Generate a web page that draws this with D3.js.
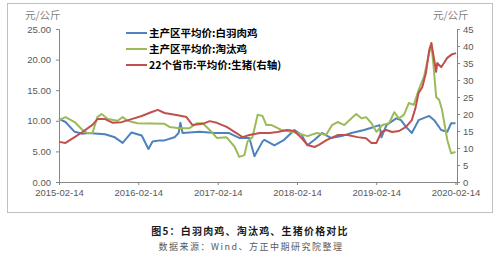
<!DOCTYPE html>
<html>
<head>
<meta charset="utf-8">
<script src="https://cdn.jsdelivr.net/npm/d3@7"></script>
<style>
  body { margin: 0; background: #fff; }
  text { font-family: "Liberation Sans", Arial, sans-serif; }
  .cjk { font-family: "Noto Sans CJK SC", sans-serif; }
</style>
</head>
<body>
<div id="chart"></div>
<script>
// tick labels
var xTickDates = ["2015-02-14","2016-02-14","2017-02-14","2018-02-14","2019-02-14","2020-02-14"];
var leftTicks = [0, 5, 10, 15, 20, 25];
var rightTicks = [0, 5, 10, 15, 20, 25, 30, 35, 40, 45];

// series names
var seriesNames = ["主产区平均价:白羽肉鸡", "主产区平均价:淘汰鸡", "22个省市:平均价:生猪(右轴)"];

// 白羽肉鸡 (left axis)
var broiler = [
  ["2015-02-14",10.3],["2015-03-16",9.8],["2015-04-27",8.2],["2015-06-02",7.9],["2015-06-26",8.0],
  ["2015-09-14",7.8],["2015-10-29",7.3],["2015-12-04",6.4],["2016-01-14",8.1],["2016-03-01",7.6],
  ["2016-04-01",5.4],["2016-04-20",6.6],["2016-05-23",6.8],["2016-06-14",6.8],["2016-07-30",7.3],
  ["2016-08-18",8.0],["2016-08-26",9.7],["2016-09-05",8.0],["2016-11-23",8.2],["2017-02-01",8.0],
  ["2017-04-08",8.0],["2017-05-24",7.2],["2017-07-10",7.2],["2017-08-02",4.2],["2017-09-08",6.6],
  ["2017-09-17",6.9],["2017-11-02",6.0],["2017-12-17",6.9],["2018-02-02",8.5],["2018-03-07",7.7],
  ["2018-04-03",6.0],["2018-05-06",6.9],["2018-06-10",8.0],["2018-07-20",7.2],["2018-09-08",7.5],
  ["2018-10-23",8.0],["2018-12-20",8.5],["2019-02-04",9.0],["2019-03-01",9.3],["2019-03-10",7.3],
  ["2019-04-02",9.3],["2019-05-17",10.4],["2019-06-08",10.1],["2019-07-01",9.0],["2019-07-28",8.0],
  ["2019-08-28",10.1],["2019-10-16",10.8],["2019-11-08",10.1],["2019-12-10",8.5],["2020-01-07",8.2],
  ["2020-01-25",9.6],["2020-02-14",9.6]
];

// 淘汰鸡 (left axis)
var spentHen = [
  ["2015-02-14",10.1],["2015-03-16",10.6],["2015-04-27",9.8],["2015-06-02",8.5],["2015-06-26",8.0],
  ["2015-07-18",8.0],["2015-08-10",10.6],["2015-08-29",11.1],["2015-09-27",10.3],["2015-11-11",10.0],
  ["2015-12-04",10.6],["2015-12-27",10.0],["2016-02-10",9.6],["2016-06-14",9.5],["2016-07-07",9.0],
  ["2016-08-22",8.8],["2016-10-07",8.8],["2016-11-10",9.6],["2016-12-07",9.6],["2017-01-08",8.5],
  ["2017-02-10",7.2],["2017-03-27",7.3],["2017-05-02",5.8],["2017-05-24",4.1],["2017-06-17",4.4],
  ["2017-07-01",6.6],["2017-07-24",7.3],["2017-08-17",11.0],["2017-09-08",10.8],["2017-09-26",9.3],
  ["2017-10-20",9.3],["2017-12-04",8.5],["2018-01-19",8.2],["2018-02-15",8.0],["2018-04-03",7.5],
  ["2018-05-17",8.0],["2018-06-28",7.7],["2018-07-26",9.3],["2018-08-20",9.8],["2018-09-20",9.3],
  ["2018-10-23",10.4],["2018-11-14",11.1],["2018-12-08",10.4],["2018-12-29",10.6],["2019-01-23",9.6],
  ["2019-02-15",8.2],["2019-03-14",9.3],["2019-04-14",9.6],["2019-05-08",11.4],["2019-05-30",10.4],
  ["2019-06-22",11.0],["2019-07-14",12.9],["2019-08-06",12.6],["2019-08-28",15.0],["2019-09-22",17.2],
  ["2019-10-16",21.1],["2019-10-26",22.4],["2019-11-04",19.4],["2019-11-17",13.9],["2019-12-01",13.4],
  ["2019-12-14",11.8],["2020-01-07",6.9],["2020-01-25",4.7],["2020-02-14",4.9]
];

// 生猪 (right axis)
var hog = [
  ["2015-02-14",11.8],["2015-03-16",11.5],["2015-04-27",13.2],["2015-06-02",14.7],["2015-07-18",16.8],
  ["2015-08-10",18.5],["2015-09-14",18.5],["2015-10-20",17.4],["2015-11-29",17.6],["2016-01-14",18.5],
  ["2016-03-01",19.4],["2016-04-16",20.6],["2016-05-14",21.2],["2016-06-14",20.3],["2016-08-08",19.7],
  ["2016-09-23",19.1],["2016-10-20",16.8],["2016-12-07",17.1],["2017-01-08",17.9],["2017-02-10",17.4],
  ["2017-03-27",16.2],["2017-05-11",14.4],["2017-06-08",13.2],["2017-07-10",13.8],["2017-08-26",14.4],
  ["2017-10-11",14.4],["2017-11-16",14.7],["2017-12-31",15.3],["2018-02-02",15.0],["2018-03-07",12.9],
  ["2018-04-03",10.9],["2018-05-06",10.3],["2018-05-26",10.9],["2018-07-02",12.4],["2018-08-20",13.8],
  ["2018-10-05",13.8],["2018-11-20",13.2],["2018-12-29",12.9],["2019-01-23",11.5],["2019-02-15",11.5],
  ["2019-03-10",14.7],["2019-04-02",15.3],["2019-04-28",14.7],["2019-05-30",15.0],["2019-07-01",16.2],
  ["2019-07-28",18.2],["2019-08-14",21.8],["2019-08-28",26.2],["2019-09-14",27.9],["2019-10-01",32.1],
  ["2019-10-16",38.8],["2019-10-26",40.9],["2019-10-29",39.7],["2019-11-17",32.4],["2019-11-22",35.0],
  ["2019-12-10",33.8],["2019-12-23",35.0],["2020-01-07",36.5],["2020-01-30",37.6],["2020-02-17",37.9]
];

var colors = ["#4F81BD", "#9BBB59", "#C0504D"];

var width = 500, height = 257;
var margin = {left: 59, right: 43, top: 29, bottom: 75};

var parseDate = d3.timeParse("%Y-%m-%d");

var svg = d3.select("#chart").append("svg")
    .attr("width", width)
    .attr("height", height);

svg.append("rect").attr("width", width).attr("height", height).attr("fill", "#fff");

// outer frame
svg.append("rect")
    .attr("x", 7.5).attr("y", 3.5)
    .attr("width", 485).attr("height", 209)
    .attr("fill", "none")
    .attr("stroke", "#bfbfbf");

var x = d3.scaleTime()
    .domain([parseDate("2015-02-14"), parseDate("2020-02-21")])
    .range([margin.left, width - margin.right]);
var yL = d3.scaleLinear().domain([0, 25]).range([height - margin.bottom, margin.top]);
var yR = d3.scaleLinear().domain([0, 45]).range([height - margin.bottom, margin.top]);

var axisColor = "#868686", labelColor = "#595959";

function styleAxis(g) {
    g.select(".domain").attr("stroke", axisColor);
    g.selectAll(".tick line").attr("stroke", axisColor);
    g.selectAll(".tick text").attr("fill", labelColor)
        .style("font-family", "'Liberation Sans', Arial, sans-serif")
        .style("font-size", "9.5px");
}

// bottom axis
var gx = svg.append("g")
    .attr("transform", "translate(0," + (height - margin.bottom) + ")")
    .call(d3.axisBottom(x)
        .tickValues(xTickDates.map(parseDate))
        .tickFormat(d3.timeFormat("%Y-%m-%d"))
        .tickSizeOuter(0).tickSize(3));
gx.call(styleAxis);
gx.selectAll(".tick text").attr("dy", "0.71em").attr("y", 7);

// left axis
var gl = svg.append("g")
    .attr("transform", "translate(" + margin.left + ",0)")
    .call(d3.axisLeft(yL).tickValues(leftTicks).tickFormat(d3.format(".2f")).tickSizeOuter(0).tickSize(3));
gl.call(styleAxis);
gl.selectAll(".tick text").attr("x", -8);

// right axis
var gr = svg.append("g")
    .attr("transform", "translate(" + (width - margin.right) + ",0)")
    .call(d3.axisRight(yR).tickValues(rightTicks).tickSizeOuter(0).tickSize(3));
gr.call(styleAxis);
gr.selectAll(".tick text").attr("x", 6);

// unit labels
svg.append("text").attr("class", "cjk")
    .attr("x", 25).attr("y", 19)
    .attr("fill", "#7f7f7f").style("font-size", "10.5px")
    .text("元/公斤");
svg.append("text").attr("class", "cjk")
    .attr("x", 433).attr("y", 19)
    .attr("fill", "#7f7f7f").style("font-size", "10.5px")
    .text("元/公斤");

// lines
var lineL = d3.line()
    .x(function(d){ return x(parseDate(d[0])); })
    .y(function(d){ return yL(d[1]); });
var lineR = d3.line()
    .x(function(d){ return x(parseDate(d[0])); })
    .y(function(d){ return yR(d[1]); });

svg.append("path").datum(broiler)
    .attr("fill", "none").attr("stroke", colors[0]).attr("stroke-width", 2)
    .attr("stroke-linejoin", "round").attr("d", lineL);
svg.append("path").datum(spentHen)
    .attr("fill", "none").attr("stroke", colors[1]).attr("stroke-width", 2)
    .attr("stroke-linejoin", "round").attr("d", lineL);
svg.append("path").datum(hog)
    .attr("fill", "none").attr("stroke", colors[2]).attr("stroke-width", 2)
    .attr("stroke-linejoin", "round").attr("d", lineR);

// legend
var legend = svg.append("g").attr("transform", "translate(126,33)");
seriesNames.forEach(function(name, i) {
    var row = legend.append("g").attr("transform", "translate(0," + (i * 16) + ")");
    row.append("line").attr("x1", 0).attr("x2", 21).attr("y1", 0).attr("y2", 0)
        .attr("stroke", colors[i]).attr("stroke-width", 2);
    row.append("text").attr("class", "cjk")
        .attr("x", 23).attr("y", 0).attr("dy", "0.35em")
        .attr("fill", "#000").style("font-size", "10.5px").style("font-weight", "bold")
        .text(name);
});

// caption
svg.append("text").attr("class", "cjk")
    .attr("x", 250).attr("y", 235).attr("text-anchor", "middle")
    .attr("fill", "#1a1a1a").style("font-size", "10px").style("font-weight", "bold")
    .style("letter-spacing", "1.2px")
    .text("图5：白羽肉鸡、淘汰鸡、生猪价格对比");
svg.append("text").attr("class", "cjk")
    .attr("x", 251).attr("y", 250).attr("text-anchor", "middle")
    .attr("fill", "#595959").style("font-size", "9px")
    .style("letter-spacing", "1.5px")
    .text("数据来源：Wind、方正中期研究院整理");
</script>
</body>
</html>
